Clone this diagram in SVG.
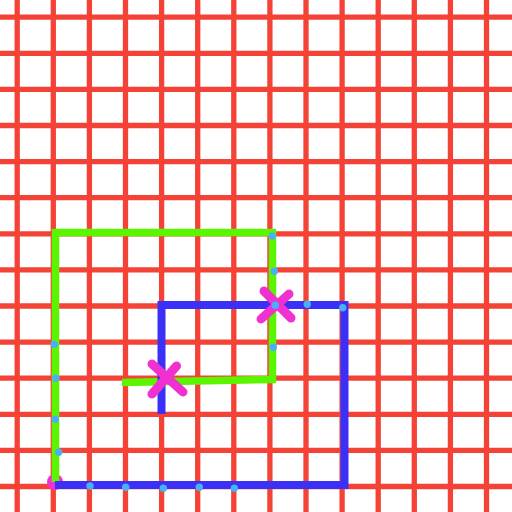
<svg xmlns="http://www.w3.org/2000/svg" width="512" height="512" viewBox="0 0 512 512">
<style>
.grid line{stroke:#f44336;stroke-width:5.3}
.green{fill:none;stroke:#5cf500;stroke-width:7.5;stroke-linejoin:miter}
.blue{fill:none;stroke:#3b30f5;stroke-width:8;stroke-linejoin:miter}
.x{stroke:#f030d0;stroke-width:9;stroke-linecap:round}
.dot{fill:#4ab0f5}
</style>
<rect width="512" height="512" fill="#fff"/>
<g class="grid" id="grid">
<line x1="17.2" y1="0" x2="17.2" y2="512"/><line x1="53.3" y1="0" x2="53.3" y2="512"/><line x1="89.4" y1="0" x2="89.4" y2="512"/><line x1="125.5" y1="0" x2="125.5" y2="512"/><line x1="161.6" y1="0" x2="161.6" y2="512"/><line x1="197.7" y1="0" x2="197.7" y2="512"/><line x1="233.8" y1="0" x2="233.8" y2="512"/><line x1="269.9" y1="0" x2="269.9" y2="512"/><line x1="306" y1="0" x2="306" y2="512"/><line x1="342.1" y1="0" x2="342.1" y2="512"/><line x1="378.2" y1="0" x2="378.2" y2="512"/><line x1="414.3" y1="0" x2="414.3" y2="512"/><line x1="450.4" y1="0" x2="450.4" y2="512"/><line x1="486.5" y1="0" x2="486.5" y2="512"/>
<line y1="17.2" x1="0" y2="17.2" x2="512"/><line y1="53.3" x1="0" y2="53.3" x2="512"/><line y1="89.4" x1="0" y2="89.4" x2="512"/><line y1="125.5" x1="0" y2="125.5" x2="512"/><line y1="161.6" x1="0" y2="161.6" x2="512"/><line y1="197.7" x1="0" y2="197.7" x2="512"/><line y1="233.8" x1="0" y2="233.8" x2="512"/><line y1="269.9" x1="0" y2="269.9" x2="512"/><line y1="306" x1="0" y2="306" x2="512"/><line y1="342.1" x1="0" y2="342.1" x2="512"/><line y1="378.2" x1="0" y2="378.2" x2="512"/><line y1="414.3" x1="0" y2="414.3" x2="512"/><line y1="450.4" x1="0" y2="450.4" x2="512"/><line y1="486.5" x1="0" y2="486.5" x2="512"/>
</g>
<circle id="start" cx="55" cy="482" r="8" fill="#f030d0"/>
<g id="connectors">
<path class="green" d="M55.5 482 V232.5 H272.5 V379.5 L122 382.5"/>
<path class="blue" d="M161.5 414 V305 H344.5 V485 H55"/>
</g>
<g id="marks">
<line class="x" x1="264" y1="291" x2="291" y2="318"/>
<line class="x" x1="289" y1="294" x2="261" y2="319"/>
<line class="x" x1="152" y1="364" x2="183" y2="392"/>
<line class="x" x1="176.5" y1="366" x2="152" y2="394"/>
<circle class="dot" cx="272.3" cy="236" r="3.7"/>
<circle class="dot" cx="274.3" cy="271.3" r="3.7"/>
<circle class="dot" cx="275.3" cy="305.3" r="3.7"/>
<circle class="dot" cx="307.3" cy="304.3" r="3.7"/>
<circle class="dot" cx="342.7" cy="307.7" r="3.7"/>
<circle class="dot" cx="273.3" cy="347.3" r="3.7"/>
<circle class="dot" cx="54.3" cy="344.3" r="3.7"/>
<circle class="dot" cx="55.7" cy="378.3" r="3.7"/>
<circle class="dot" cx="55.3" cy="419.3" r="3.7"/>
<circle class="dot" cx="58.7" cy="452.3" r="3.7"/>
<circle class="dot" cx="90" cy="486" r="3.7"/>
<circle class="dot" cx="125.7" cy="487.3" r="3.7"/>
<circle class="dot" cx="163.3" cy="488.3" r="3.7"/>
<circle class="dot" cx="199.3" cy="487.3" r="3.7"/>
<circle class="dot" cx="234.3" cy="488.3" r="3.7"/>
</g>
</svg>
